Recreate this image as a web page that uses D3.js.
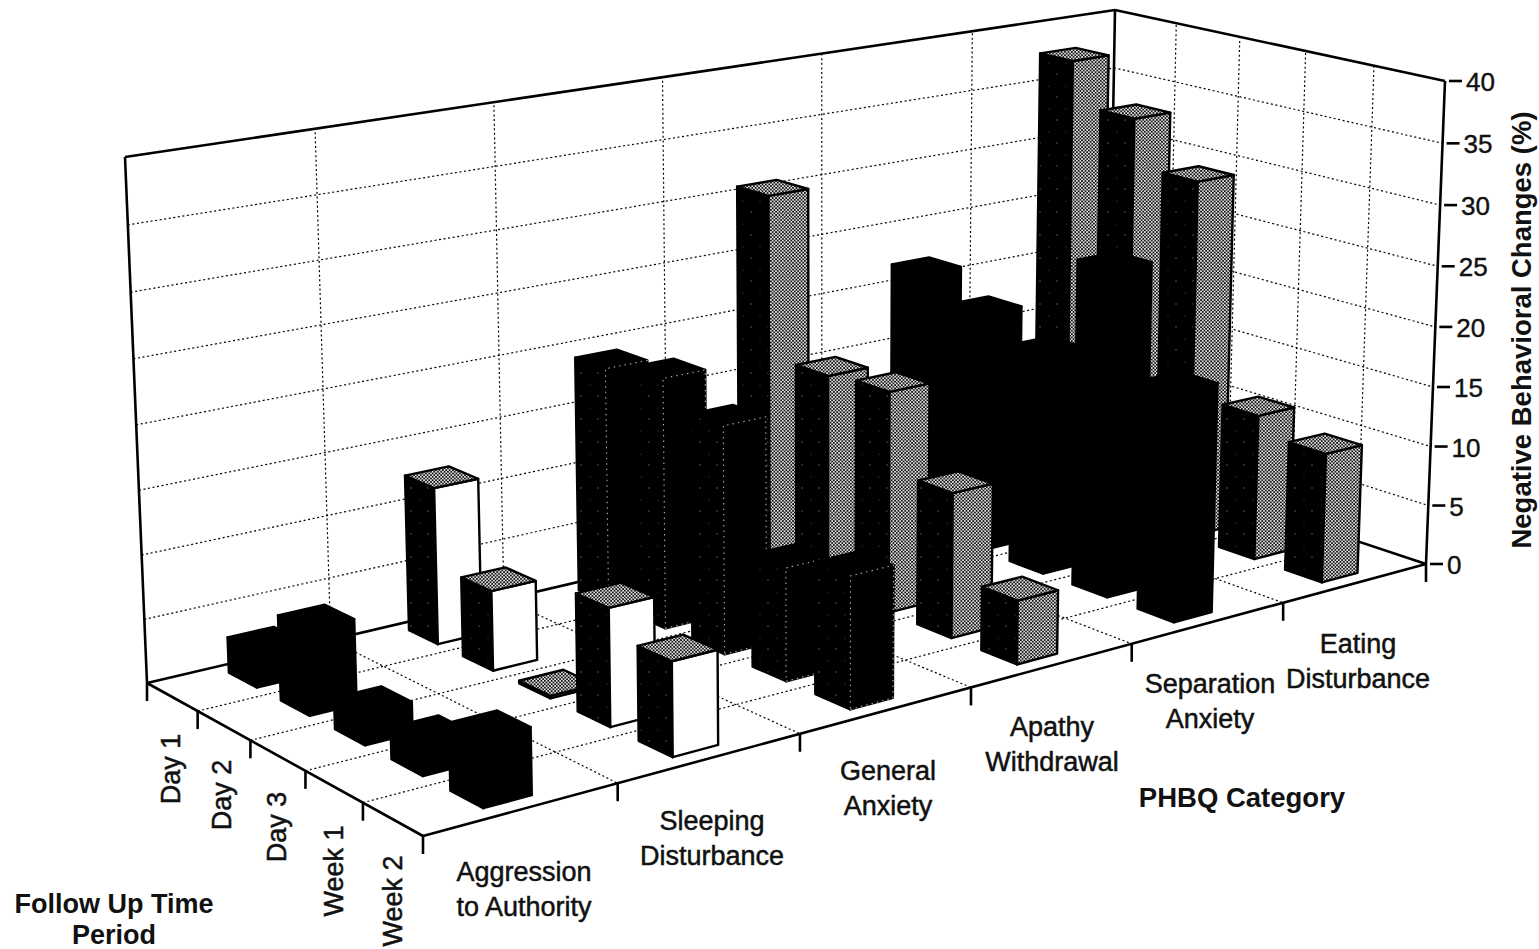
<!DOCTYPE html>
<html>
<head>
<meta charset="utf-8">
<script src="https://cdnjs.cloudflare.com/ajax/libs/d3/7.8.5/d3.min.js"></script>
<style>
html, body {margin: 0; padding: 0; background: #fff;}
svg {display: block;}
text {font-family: "Liberation Sans", sans-serif; fill: #111;}
</style>
</head>
<body>
<svg id="chart" width="1539" height="949"></svg>
<script>
var categories = ['Aggression to Authority', 'Sleeping Disturbance', 'General Anxiety', 'Apathy Withdrawal', 'Separation Anxiety', 'Eating Disturbance']
var categoryLines = [['Aggression', 'to Authority'], ['Sleeping', 'Disturbance'], ['General', 'Anxiety'], ['Apathy', 'Withdrawal'], ['Separation', 'Anxiety'], ['Eating', 'Disturbance']]
var timePeriods = ['Day 1', 'Day 2', 'Day 3', 'Week 1', 'Week 2']
var yTicks = [0, 5, 10, 15, 20, 25, 30, 35, 40]

// one list per category, Day 1 .. Week 2
var aggression = [2.8, 6.6, 2.4, 2.4, 5]
var sleeping = [12.5, 6.3, 0.2, 9.1, 7.2]
var generalAnxiety = [19.2, 20.1, 18.1, 8.9, 10.3]
var apathy = [30.7, 17.6, 18, 11.7, 5.1]
var separation = [21.9, 20.1, 18.3, 26.8, 18.7]
var eating = [37.7, 34.1, 30.2, 12.2, 10.8]
var allSeries = [aggression, sleeping, generalAnxiety, apathy, separation, eating]

// how each category's faces look
var faceStyles = [
  {left: '#000', front: '#000', top: '#000'},
  {left: 'url(#speck)', front: '#fff', top: 'url(#stipple)'},
  {left: 'url(#speck)', front: '#060606', top: '#000', dots: true},
  {left: 'url(#speck)', front: 'url(#stipple)', top: 'url(#stipple)'},
  {left: '#000', front: '#000', top: '#000'},
  {left: 'url(#speck)', front: 'url(#stipple)', top: 'url(#stipple)'},
]

// picture corners of the box: floor, then 40% level
var floorA = [147, 683], floorD = [1107, 458], floorC = [1426, 564], floorB = [423, 836]
var topA = [125, 157], topD = [1115, 10], topC = [1445, 81], topB = [409, 260]

var barW = .25, barD = .54

function quadMap(p0, p1, p2, p3){
  var dx1 = p1[0] - p2[0], dx2 = p3[0] - p2[0], sx = p0[0] - p1[0] + p2[0] - p3[0]
  var dy1 = p1[1] - p2[1], dy2 = p3[1] - p2[1], sy = p0[1] - p1[1] + p2[1] - p3[1]
  var den = dx1*dy2 - dx2*dy1
  var g = (sx*dy2 - dx2*sy)/den
  var h = (dx1*sy - sx*dy1)/den
  var a = p1[0] - p0[0] + g*p1[0], b = p3[0] - p0[0] + h*p3[0]
  var d = p1[1] - p0[1] + g*p1[1], e = p3[1] - p0[1] + h*p3[1]
  return (u, v) => {
    var w = g*u + h*v + 1
    return [(a*u + b*v + p0[0])/w, (d*u + e*v + p0[1])/w]
  }
}

var floorMap = quadMap(floorA, floorD, floorC, floorB)
var topMap = quadMap(topA, topD, topC, topB)

var cScale = d3.scaleLinear().domain([0, categories.length]).range([0, 1])
var tScale = d3.scaleLinear().domain([0, timePeriods.length]).range([0, 1])
var vScale = d3.scaleLinear().domain([0, 40]).range([0, 1])

function project(c, t, val){
  var a = floorMap(cScale(c), tScale(t))
  var b = topMap(cScale(c), tScale(t))
  var f = vScale(val)
  var k = -.036
  f = f*(1 + k)/(1 + k*f)
  return [a[0] + (b[0] - a[0])*f, a[1] + (b[1] - a[1])*f]
}

var svg = d3.select('#chart')
var defs = svg.append('defs')

var stipple = defs.append('pattern').attr('id', 'stipple')
  .attr('width', 3.4).attr('height', 3.4).attr('patternUnits', 'userSpaceOnUse')
stipple.append('rect').attr('width', 3.4).attr('height', 3.4).attr('fill', '#eee')
stipple.append('circle').attr('cx', .85).attr('cy', .85).attr('r', .98).attr('fill', '#000')
stipple.append('circle').attr('cx', 2.55).attr('cy', 2.55).attr('r', .98).attr('fill', '#111')

var speck = defs.append('pattern').attr('id', 'speck')
  .attr('width', 17).attr('height', 23).attr('patternUnits', 'userSpaceOnUse')
speck.append('rect').attr('width', 17).attr('height', 23).attr('fill', '#000')
speck.append('circle').attr('cx', 3).attr('cy', 5).attr('r', .7).attr('fill', '#777')
speck.append('circle').attr('cx', 12).attr('cy', 17).attr('r', .5).attr('fill', '#555')

var soft = defs.append('filter').attr('id', 'soft')
soft.append('feGaussianBlur').attr('stdDeviation', .55)

var lineGen = d3.line()
var marks = svg.append('g').attr('filter', 'url(#soft)')

function seg(a, b, dotted){
  marks.append('path')
    .attr('d', lineGen([a, b]))
    .attr('fill', 'none')
    .attr('stroke', '#000')
    .attr('stroke-width', dotted ? 1.2 : 2.6)
    .attr('stroke-dasharray', dotted ? '2 2.6' : null)
}

var nC = categories.length, nT = timePeriods.length

// dotted wall grid
yTicks.slice(1, -1).forEach(v => {
  seg(project(0, 0, v), project(nC, 0, v), true)
  seg(project(nC, 0, v), project(nC, nT, v), true)
})
d3.range(1, nC).forEach(c => seg(project(c, 0, 0), project(c, 0, 40), true))
d3.range(1, nT).forEach(t => seg(project(nC, t, 0), project(nC, t, 40), true))

// dotted floor grid
d3.range(1, nC).forEach(c => seg(project(c, 0, 0), project(c, nT, 0), true))
d3.range(1, nT).forEach(t => seg(project(0, t, 0), project(nC, t, 0), true))

// solid frame
seg(project(0, 0, 40), project(nC, 0, 40))
seg(project(nC, 0, 40), project(nC, nT, 40))
seg(project(0, 0, 0), project(0, 0, 40))
seg(project(nC, 0, 0), project(nC, 0, 40))
seg(project(nC, nT, 0), project(nC, nT, 40))
seg(project(0, 0, 0), project(nC, 0, 0))
seg(project(nC, 0, 0), project(nC, nT, 0))
seg(project(0, 0, 0), project(0, nT, 0))
seg(project(0, nT, 0), project(nC, nT, 0))

// floor ticks
d3.range(0, nC + 1).forEach(c => {
  var p = project(c, nT, 0)
  seg(p, [p[0], p[1] + 18])
})
d3.range(0, nT).forEach(t => {
  var p = project(0, t, 0)
  seg(p, [p[0], p[1] + 18])
})

// bars, far ones first
var bars = []
allSeries.forEach((series, c) => series.forEach((val, t) => bars.push({c, t, val})))
bars.sort((a, b) => d3.ascending(a.t, b.t) || d3.descending(a.c, b.c))

marks.selectAll('g.bar').data(bars).join('g').attr('class', 'bar').each(function(d){
  var sel = d3.select(this)
  var style = faceStyles[d.c]
  var c0 = d.c + .5 - barW/2, c1 = d.c + .5 + barW/2
  var t0 = d.t + .5 - barD/2, t1 = d.t + .5 + barD/2

  var faces = [
    {fill: style.left, pts: [[c0, t0, 0], [c0, t1, 0], [c0, t1, d.val], [c0, t0, d.val]]},
    {fill: style.front, pts: [[c0, t1, 0], [c1, t1, 0], [c1, t1, d.val], [c0, t1, d.val]]},
    {fill: style.top, pts: [[c0, t0, d.val], [c1, t0, d.val], [c1, t1, d.val], [c0, t1, d.val]]},
  ]
  sel.selectAll('path').data(faces).join('path')
    .attr('d', e => lineGen(e.pts.map(p => project(p[0], p[1], p[2]))) + 'Z')
    .attr('fill', e => e.fill)
    .attr('stroke', '#000')
    .attr('stroke-width', 2.4)
    .attr('stroke-linejoin', 'round')

  // general anxiety keeps a broken light outline on its dark front face
  if (style.dots){
    sel.append('path')
      .attr('d', lineGen(faces[1].pts.map(p => project(p[0], p[1], p[2]))) + 'Z')
      .attr('fill', 'none')
      .attr('stroke', '#aaa')
      .attr('stroke-width', 1.1)
      .attr('stroke-dasharray', '1.5 4')
  }
})

// right axis labels
yTicks.forEach(v => {
  var p = project(nC, nT, v)
  seg([p[0] + 4, p[1]], [p[0] + 17, p[1]])
  svg.append('text')
    .attr('x', p[0] + 21).attr('y', p[1] + 10)
    .attr('font-size', 26)
    .attr('stroke', '#111').attr('stroke-width', .4)
    .text(v)
})

// category labels, two lines each
var catLabelPos = [[524, 881], [712, 830], [888, 780], [1052, 736], [1210, 693], [1358, 653]]
categoryLines.forEach((lines, i) => {
  var sel = svg.append('text')
    .attr('text-anchor', 'middle')
    .attr('font-size', 27)
    .attr('stroke', '#111').attr('stroke-width', .5)
  lines.forEach((line, j) => {
    sel.append('tspan')
      .attr('x', catLabelPos[i][0])
      .attr('y', catLabelPos[i][1] + j*35)
      .text(line)
  })
})

// time labels, rotated
var timeLabelPos = [[180, 769], [231, 795], [286, 827], [343, 871], [402, 901]]
timePeriods.forEach((name, i) => {
  svg.append('text')
    .attr('transform', 'translate(' + timeLabelPos[i][0] + ',' + timeLabelPos[i][1] + ') rotate(-90)')
    .attr('text-anchor', 'middle')
    .attr('font-size', 27)
    .attr('stroke', '#111').attr('stroke-width', .5)
    .text(name)
})

svg.append('text').attr('x', 1242).attr('y', 807)
  .attr('text-anchor', 'middle').attr('font-size', 27.5).attr('font-weight', 'bold')
  .text('PHBQ Category')

var followUp = svg.append('text').attr('text-anchor', 'middle').attr('font-size', 27).attr('font-weight', 'bold')
followUp.append('tspan').attr('x', 114).attr('y', 913).text('Follow Up Time')
followUp.append('tspan').attr('x', 114).attr('y', 944).text('Period')

svg.append('text')
  .attr('transform', 'translate(1531,330) rotate(-90)')
  .attr('text-anchor', 'middle')
  .attr('font-size', 27.5).attr('font-weight', 'bold')
  .text('Negative Behavioral Changes (%)')
</script>
</body>
</html>
